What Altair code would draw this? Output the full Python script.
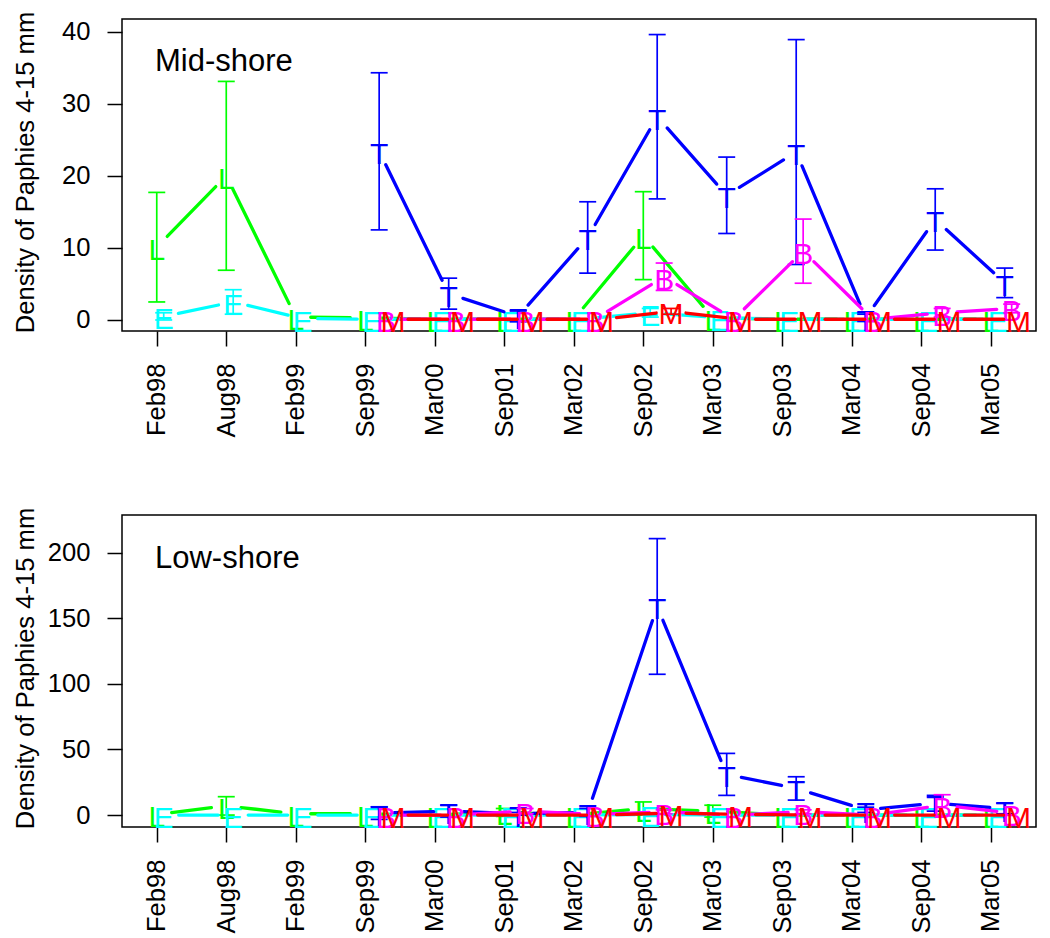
import math
import altair as alt
import pandas as pd

# ---------------- data ----------------
dates = ["Feb98", "Aug98", "Feb99", "Sep99", "Mar00", "Sep01", "Mar02",
         "Sep02", "Mar03", "Sep03", "Mar04", "Sep04", "Mar05"]
series_names = ["L", "E", "T", "B", "M"]
series_colors = ["#00FF00", "#00FFFF", "#0000FF", "#FF00FF", "#FF0000"]
series_offsets = [0.0, 0.1, 0.2, 0.3, 0.4]

NA = float("nan")

# Mid-shore (mean, standard error)
mid_L = [10.1, 20.0, 0.4, 0.3, 0.1, 0.1, 0.1, 11.7, 0.3, 0.1, 0.1, 0.1, 0.1]
mid_L_err = [7.6, 13.1, 0, 0, 0, 0, 0, 6.1, 0, 0, 0, 0, 0]
mid_E = [0.5, 2.5, 0.2, 0.1, 0.1, 0.1, 0.1, 1.0, 0.3, 0.1, 0.1, 0.1, 0.1]
mid_E_err = [0.5, 1.7, 0, 0, 0, 0, 0, 0.6, 0, 0, 0, 0, 0]
mid_T = [NA, NA, NA, 23.4, 3.65, 0.5, 11.45, 28.2, 17.3, 23.3, 0.3, 13.95, 5.15]
mid_T_err = [NA, NA, NA, 10.9, 2.15, 0.75, 4.95, 11.4, 5.3, 15.6, 0.5, 4.25, 2.05]
mid_B = [NA, NA, NA, 0.1, 0.1, 0.1, 0.1, 6.0, 0.1, 9.55, 0.1, 1.0, 1.6]
mid_B_err = [NA, NA, NA, 0, 0, 0, 0, 1.9, 0, 4.45, 0, 0.6, 0.6]
mid_M = [NA, NA, NA, 0.1, 0.1, 0.1, 0.1, 1.2, 0.1, 0.1, 0.1, 0.1, 0.1]
mid_M_err = [NA, NA, NA, 0, 0, 0, 0, 0.4, 0, 0, 0, 0, 0]

# Low-shore (mean, standard error)
low_L = [0.5, 7.0, 1.0, 1.0, 0, 2.0, 0, 5.0, 3.0, 0, 0, 0, 0]
low_L_err = [0, 7.0, 0, 0, 0, 3.0, 0, 5.0, 4.5, 0, 0, 0, 0]
low_E = [0, 0, 0, 0, 0, 0, 0, 0.5, 0, 0, 0, 0, 0]
low_E_err = [0, 0, 0, 0, 0, 0, 0, 0, 0, 0, 0, 0, 0]
low_T = [NA, NA, NA, 1.5, 3.0, 1.0, 2.0, 159.0, 31.0, 20.3, 4.0, 9.0, 5.0]
low_T_err = [NA, NA, NA, 4.8, 4.5, 1.0, 3.0, 51.7, 16.0, 8.9, 2.0, 6.0, 4.0]
low_B = [NA, NA, NA, 0, 0, 3.0, 0.5, 2.5, 0, 2.5, 0, 7.5, 1.5]
low_B_err = [NA, NA, NA, 0, 0, 2.0, 0, 1.5, 0, 1.5, 0, 8.0, 0]
low_M = [NA, NA, NA, 0, 0, 0, 0, 1.5, 0.5, 0, 0, 0, 0]
low_M_err = [NA, NA, NA, 0, 0, 0, 0, 0, 0, 0, 0, 0, 0]

y_title = "Density of Paphies 4-15 mm"
mid_ticks = [0, 10, 20, 30, 40]
low_ticks = [0, 50, 100, 150, 200]

# ---------------- layout / style ----------------
W, H = 914, 312
X_DOMAIN = [0.5, 13.65]
MID_DOMAIN = [-1.53, 41.76]
LOW_DOMAIN = [-9.1, 228.7]
GAP = 15.0     # px gap around plotted letters (R type="b")
CAP = 8.5      # px half-width of error bar caps
FONT = "Liberation Sans"
FS = 25.6
KX = W / (X_DOMAIN[1] - X_DOMAIN[0])

label_array = "[" + ",".join("'%s'" % d for d in dates) + "]"

x_axis = alt.Axis(values=list(range(1, 14)), labelExpr=label_array + "[datum.value-1]",
                  labelAngle=-90, labelAlign="right", labelBaseline="middle",
                  labelPadding=17, tickSize=15, tickWidth=1.5, tickColor="black",
                  labelFontSize=FS, labelFont=FONT, labelColor="black",
                  grid=False, domain=False, title=None)
x_scale = alt.Scale(domain=X_DOMAIN, nice=False, zero=False)


def make_panel(means, errs, ydom, yticks, label, label_y):
    ky = H / (ydom[1] - ydom[0])
    y_scale = alt.Scale(domain=ydom, nice=False, zero=False)
    y_axis = alt.Axis(values=yticks, labelAngle=0, labelPadding=17, tickSize=15,
                      tickWidth=1.5, tickColor="black", labelFontSize=FS,
                      labelFont=FONT, labelColor="black", grid=False, domain=False,
                      title=y_title, titleFont=FONT, titleFontSize=FS,
                      titleFontWeight="normal", titleColor="black",
                      titleAngle=-90, titleX=-89, titleY=153,
                      titleAlign="center", titleBaseline="alphabetic")

    def X(f):
        return alt.X(f, type="quantitative", scale=x_scale, axis=x_axis)

    def Y(f):
        return alt.Y(f, type="quantitative", scale=y_scale, axis=y_axis)

    layers = []
    for s, col, off in zip(series_names, series_colors, series_offsets):
        m = means[s]
        e = errs[s]
        pts, segs, ebs = [], [], []
        for i in range(len(dates)):
            if math.isnan(m[i]):
                continue
            x = i + 1 + off
            pts.append({"x": x, "y": m[i], "letter": s})
            if i + 1 < len(dates) and not math.isnan(m[i + 1]):
                segs.append({"x": x, "y": m[i], "xn": i + 2 + off, "yn": m[i + 1]})
            if not math.isnan(e[i]) and e[i] > 0:
                ebs.append({"x": x, "y": m[i], "err": e[i]})

        if segs:
            seg = (alt.Chart(pd.DataFrame(segs))
                   .transform_calculate(dxp=f"(datum.xn-datum.x)*{KX}")
                   .transform_calculate(dyp=f"(datum.yn-datum.y)*{ky}")
                   .transform_calculate(d="sqrt(datum.dxp*datum.dxp+datum.dyp*datum.dyp)")
                   .transform_filter(f"datum.d > {2 * GAP}")
                   .transform_calculate(xa=f"datum.x+(datum.xn-datum.x)*{GAP}/datum.d")
                   .transform_calculate(xb=f"datum.xn-(datum.xn-datum.x)*{GAP}/datum.d")
                   .transform_calculate(ya=f"datum.y+(datum.yn-datum.y)*{GAP}/datum.d")
                   .transform_calculate(yb=f"datum.yn-(datum.yn-datum.y)*{GAP}/datum.d")
                   .mark_rule(color=col, strokeWidth=3.3, strokeCap="round")
                   .encode(x=X("xa"), x2="xb:Q", y=Y("ya"), y2="yb:Q"))
            layers.append(seg)

        txt = (alt.Chart(pd.DataFrame(pts))
               .mark_text(color=col, font=FONT, fontSize=30, align="center",
                          baseline="middle", dy=4)
               .encode(x=X("x"), y=Y("y"), text="letter:N"))
        layers.append(txt)

        if ebs:
            eb_df = pd.DataFrame(ebs)
            bars = (alt.Chart(eb_df)
                    .transform_calculate(lo="datum.y-datum.err")
                    .transform_calculate(hi="datum.y+datum.err")
                    .mark_rule(color=col, strokeWidth=1.7)
                    .encode(x=X("x"), y=Y("lo"), y2="hi:Q"))
            caps = (alt.Chart(eb_df)
                    .transform_calculate(lo="datum.y-datum.err")
                    .transform_calculate(hi="datum.y+datum.err")
                    .transform_calculate(xl=f"datum.x-{CAP / KX}")
                    .transform_calculate(xr=f"datum.x+{CAP / KX}")
                    .transform_fold(["lo", "hi"], as_=["k", "yc"])
                    .mark_rule(color=col, strokeWidth=1.7)
                    .encode(x=X("xl"), x2="xr:Q", y=Y("yc")))
            layers.append(bars)
            layers.append(caps)

    lab = (alt.Chart(pd.DataFrame({"t": [label]}))
           .mark_text(font=FONT, fontSize=31, align="left", baseline="middle",
                      color="black")
           .encode(text="t:N", x=alt.value(33), y=alt.value(label_y)))
    layers.append(lab)
    return alt.layer(*layers).properties(width=W, height=H)


mid_means = {"L": mid_L, "E": mid_E, "T": mid_T, "B": mid_B, "M": mid_M}
mid_errs = {"L": mid_L_err, "E": mid_E_err, "T": mid_T_err, "B": mid_B_err, "M": mid_M_err}
low_means = {"L": low_L, "E": low_E, "T": low_T, "B": low_B, "M": low_M}
low_errs = {"L": low_L_err, "E": low_E_err, "T": low_T_err, "B": low_B_err, "M": low_M_err}

top = make_panel(mid_means, mid_errs, MID_DOMAIN, mid_ticks, "Mid-shore", 43)
bottom = make_panel(low_means, low_errs, LOW_DOMAIN, low_ticks, "Low-shore", 44)

chart = (alt.vconcat(top, bottom, spacing=68)
         .properties(padding={"left": 4, "top": 2, "right": 5, "bottom": 5},
                     background="white")
         .configure_view(stroke="black", strokeWidth=1.5)
         .resolve_scale(x="independent", y="independent"))

chart.save("out.html", embed_options={"renderer": "svg", "actions": False})
